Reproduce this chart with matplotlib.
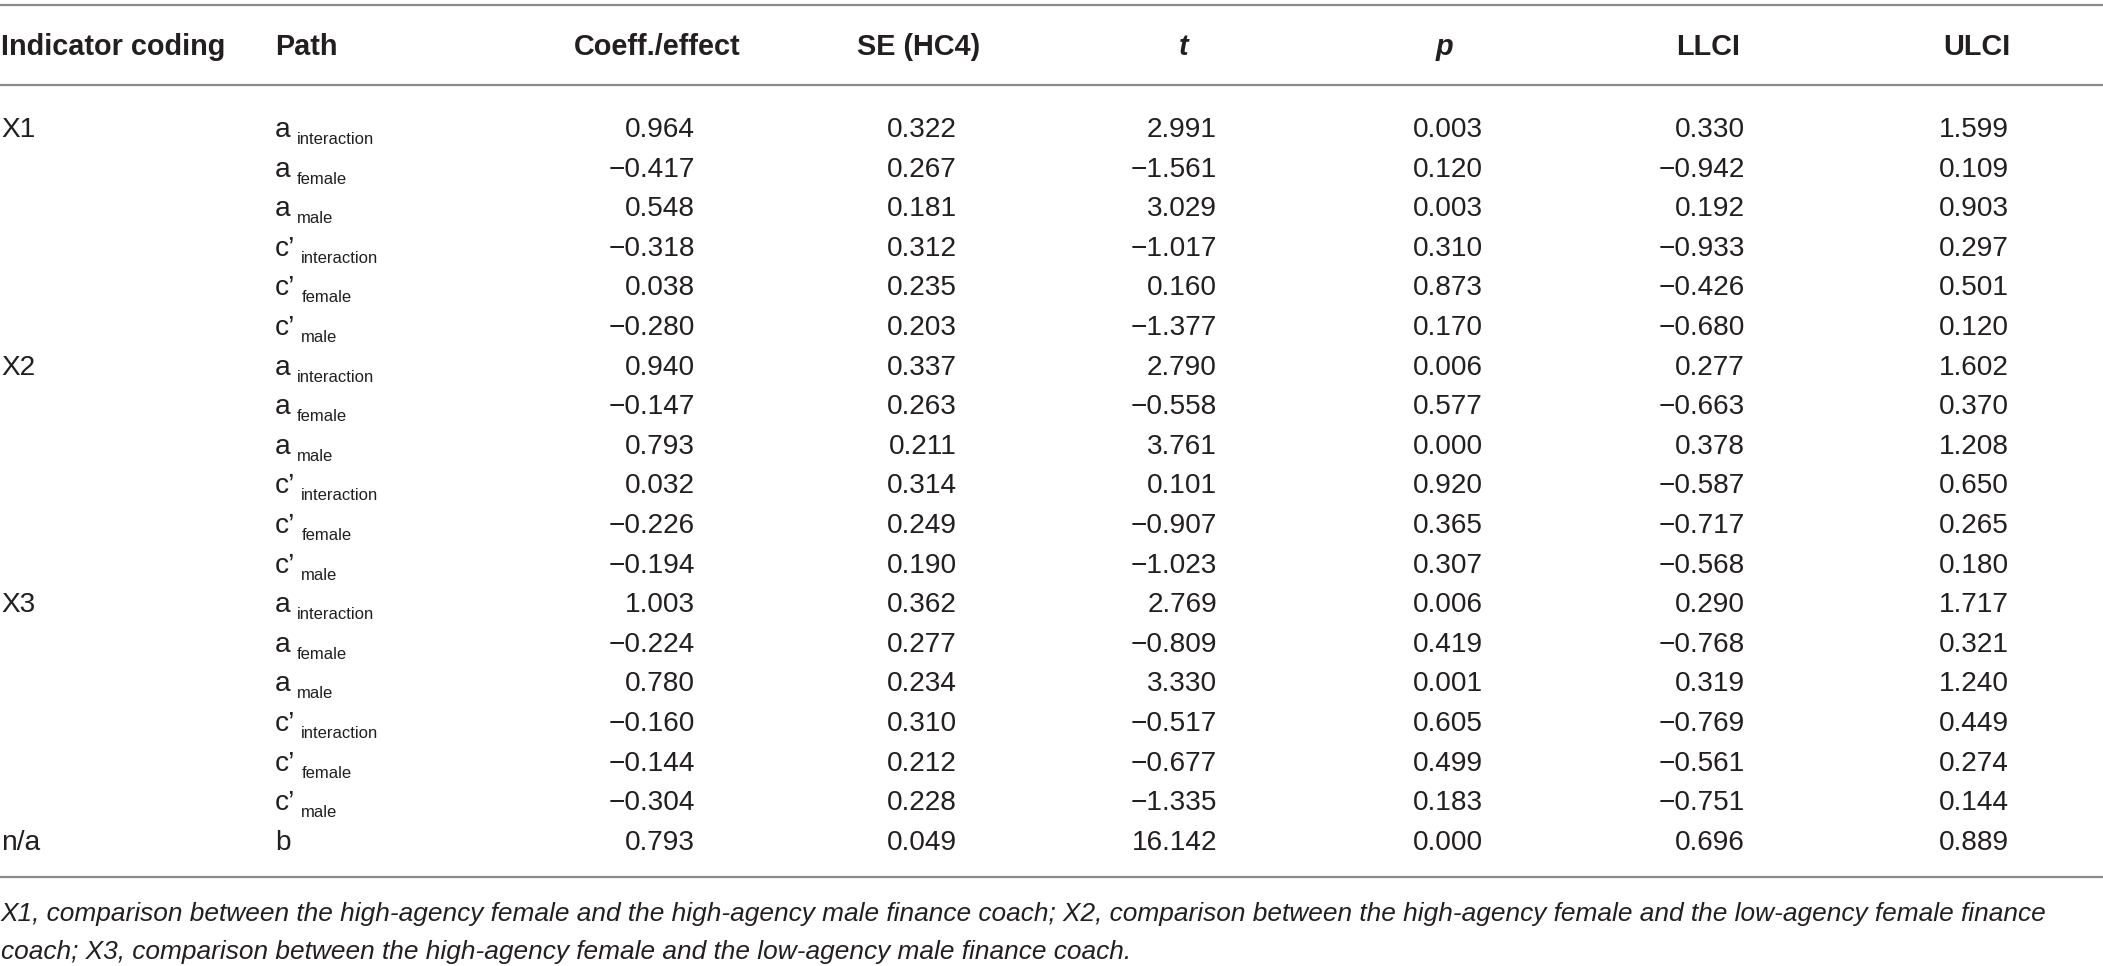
import matplotlib
matplotlib.use("Agg")
import matplotlib.pyplot as plt
from matplotlib.transforms import offset_copy

# ---------------- data ----------------
headers = ["Indicator coding", "Path", "Coeff./effect", "SE (HC4)", "t", "p", "LLCI", "ULCI"]
indicators = ["X1", "", "", "", "", "", "X2", "", "", "", "", "", "X3", "", "", "", "", "", "n/a"]
path_main = ["a", "a", "a", "c\u2019", "c\u2019", "c\u2019"] * 3 + ["b"]
path_sub = ["interaction", "female", "male", "interaction", "female", "male"] * 3 + [""]
coef = [0.964, -0.417, 0.548, -0.318, 0.038, -0.280,
        0.940, -0.147, 0.793, 0.032, -0.226, -0.194,
        1.003, -0.224, 0.780, -0.160, -0.144, -0.304,
        0.793]
se = [0.322, 0.267, 0.181, 0.312, 0.235, 0.203,
      0.337, 0.263, 0.211, 0.314, 0.249, 0.190,
      0.362, 0.277, 0.234, 0.310, 0.212, 0.228,
      0.049]
tval = [2.991, -1.561, 3.029, -1.017, 0.160, -1.377,
        2.790, -0.558, 3.761, 0.101, -0.907, -1.023,
        2.769, -0.809, 3.330, -0.517, -0.677, -1.335,
        16.142]
pval = [0.003, 0.120, 0.003, 0.310, 0.873, 0.170,
        0.006, 0.577, 0.000, 0.920, 0.365, 0.307,
        0.006, 0.419, 0.001, 0.605, 0.499, 0.183,
        0.000]
llci = [0.330, -0.942, 0.192, -0.933, -0.426, -0.680,
        0.277, -0.663, 0.378, -0.587, -0.717, -0.568,
        0.290, -0.768, 0.319, -0.769, -0.561, -0.751,
        0.696]
ulci = [1.599, 0.109, 0.903, 0.297, 0.501, 0.120,
        1.602, 0.370, 1.208, 0.650, 0.265, 0.180,
        1.717, 0.321, 1.240, 0.449, 0.274, 0.144,
        0.889]
footnote = ["X1, comparison between the high-agency female and the high-agency male finance coach; X2, comparison between the high-agency female and the low-agency female finance",
            "coach; X3, comparison between the high-agency female and the low-agency male finance coach."]

# ---------------- layout ----------------
W, H = 2103, 966
DPI = 100
FONT = "Liberation Sans"
TXT = "#231f20"
LINE = "#8a8a8a"
FS = 20.2
FS_SUB = 12.0
FS_HEAD = 20.8

fig = plt.figure(figsize=(W / DPI, H / DPI), dpi=DPI)
ax = fig.add_axes([0, 0, 1, 1])
ax.set_xlim(0, W)
ax.set_ylim(H, 0)
ax.axis("off")

num_cols = [coef, se, tval, pval, llci, ulci]
head_centers = [657, 919, 1184, 1444, 1708, 1977]
num_right = [695, 957, 1217, 1483, 1745, 2009]

# rules
for y in (5, 85, 877):
    ax.plot([0, W], [y, y], color=LINE, lw=1.6, solid_capstyle="butt")

# header
hb = 55
ax.text(1, hb, headers[0], fontsize=FS_HEAD, fontweight="bold", family=FONT, color=TXT, va="baseline", ha="left")
ax.text(275, hb, headers[1], fontsize=FS_HEAD, fontweight="bold", family=FONT, color=TXT, va="baseline", ha="left")
for h, xc in zip(headers[2:], head_centers):
    style = "italic" if h in ("t", "p") else "normal"
    ax.text(xc, hb, h, fontsize=FS_HEAD, fontweight="bold", fontstyle=style, family=FONT,
            color=TXT, va="baseline", ha="center")

def fmt(v):
    s = f"{v:.3f}"
    return s.replace("-", "\u2212")

fig.canvas.draw()
renderer = fig.canvas.get_renderer()

base0 = 137
step = 39.6
for i in range(len(coef)):
    yb = base0 + step * i
    if indicators[i]:
        ax.text(1, yb, indicators[i], fontsize=FS, family=FONT, color=TXT, va="baseline", ha="left")
    tm = ax.text(275, yb, path_main[i], fontsize=FS, family=FONT, color=TXT, va="baseline", ha="left")
    if path_sub[i]:
        w = tm.get_window_extent(renderer).width
        tr = offset_copy(ax.transData, fig=fig, x=w + 6, y=-7, units="dots")
        ax.text(275, yb, path_sub[i], fontsize=FS_SUB, family=FONT, color=TXT,
                va="baseline", ha="left", transform=tr)
    for col, xr in zip(num_cols, num_right):
        ax.text(xr, yb, fmt(col[i]), fontsize=FS, family=FONT, color=TXT, va="baseline", ha="right")

# footnote: fit the first line to the reference's width
probe = ax.text(1, 921, footnote[0], fontsize=FS, fontstyle="italic", family=FONT,
                color=TXT, va="baseline", ha="left")
wline = probe.get_window_extent(renderer).width
fs_foot = FS * 2048 / wline
probe.remove()
for j, line in enumerate(footnote):
    ax.text(1, 921 + 38 * j, line, fontsize=fs_foot, fontstyle="italic", family=FONT,
            color=TXT, va="baseline", ha="left")

fig.savefig("out.png", dpi=DPI, facecolor="white")
